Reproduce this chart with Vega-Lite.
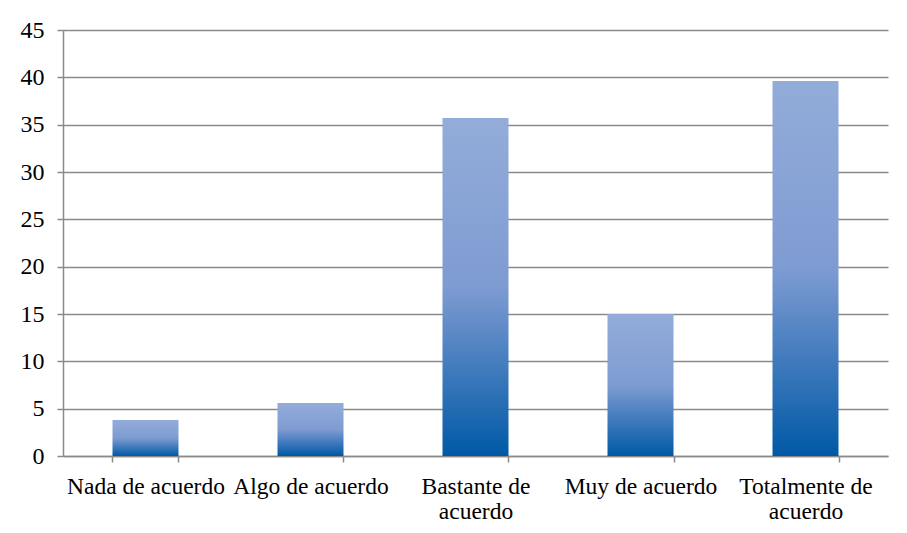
{
  "$schema": "https://vega.github.io/schema/vega-lite/v6.json",
  "autosize": {"type": "none"},
  "width": 825,
  "height": 426,
  "padding": {"left": 63, "top": 30, "right": 19, "bottom": 77},
  "background": "white",
  "config": {
    "view": {"stroke": null},
    "font": "Liberation Serif",
    "axis": {
      "labelFont": "Liberation Serif",
      "labelFontSize": 23.5,
      "labelColor": "black",
      "domainColor": "#8a8a8a",
      "domainWidth": 1.5,
      "tickColor": "#8a8a8a",
      "tickWidth": 1.5,
      "tickSize": 6,
      "gridColor": "#8a8a8a",
      "gridWidth": 1.5,
      "gridOpacity": 1,
      "title": null
    }
  },
  "data": {
    "values": [
      {"categoria": "Nada de acuerdo", "valor": 3.8},
      {"categoria": "Algo de acuerdo", "valor": 5.6},
      {"categoria": "Bastante de acuerdo", "valor": 35.7},
      {"categoria": "Muy de acuerdo", "valor": 15.0},
      {"categoria": "Totalmente de acuerdo", "valor": 39.6}
    ]
  },
  "mark": {
    "type": "bar",
    "color": {
      "gradient": "linear",
      "x1": 0, "y1": 0, "x2": 0, "y2": 1,
      "stops": [
        {"offset": 0, "color": "#93acd9"},
        {"offset": 0.5, "color": "#7e9bd2"},
        {"offset": 1, "color": "#0059a6"}
      ]
    }
  },
  "encoding": {
    "x": {
      "field": "categoria",
      "type": "nominal",
      "sort": null,
      "scale": {"paddingInner": 0.6, "paddingOuter": 0.3},
      "axis": {
        "labelAngle": 0,
        "tickBand": "extent",
        "labelPadding": 12,
        "labelLineHeight": 25,
        "labelBaseline": "top",
        "labelLimit": 0,
        "labelExpr": "datum.label == 'Bastante de acuerdo' ? ['Bastante de', 'acuerdo'] : datum.label == 'Totalmente de acuerdo' ? ['Totalmente de', 'acuerdo'] : datum.label"
      }
    },
    "y": {
      "field": "valor",
      "type": "quantitative",
      "scale": {"domain": [0, 45], "nice": false},
      "axis": {"values": [0, 5, 10, 15, 20, 25, 30, 35, 40, 45], "grid": true, "labelPadding": 13, "labelFontSize": 24}
    }
  }
}
